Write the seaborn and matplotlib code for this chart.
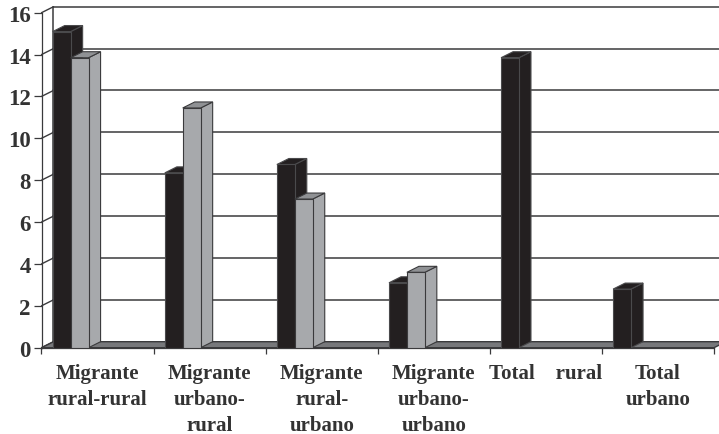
import matplotlib
matplotlib.use("Agg")
import matplotlib.pyplot as plt
from matplotlib.patches import Polygon
import numpy as np
import pandas as pd
import seaborn as sns

categories = ["Migrante\nrural-rural", "Migrante\nurbano-\nrural", "Migrante\nrural-\nurbano",
              "Migrante\nurbano-\nurbano", "Total    rural", "Total\nurbano"]
serie_oscura = [15.1, 8.35, 8.75, 3.1, 13.85, 2.8]
serie_gris = [13.85, 11.45, 7.1, 3.6, np.nan, np.nan]
y_ticks = list(range(0, 17, 2))

# the picture reserves room for five series per group, only two hold data
hue_levels = ["a", "b", "c", "d", "e"]

DARK = "#231f20"
GREY = "#a7a9ac"
TEXT = "#333333"
LINE = "#3a3a3c"

sns.set_style("white")
plt.rcParams["font.family"] = ["Liberation Serif", "DejaVu Serif"]

df = pd.concat([
    pd.DataFrame({"cat": categories, "valor": serie_oscura, "serie": "a"}),
    pd.DataFrame({"cat": categories, "valor": serie_gris, "serie": "b"}),
], ignore_index=True)

fig = plt.figure(figsize=(7.19, 4.35), dpi=100)
ax = fig.add_axes([41.5 / 719, 1 - 348.7 / 435, 672.5 / 719, 335 / 435])

palette = {"a": DARK, "b": GREY, "c": GREY, "d": GREY, "e": GREY}
sns.barplot(data=df, x="cat", y="valor", hue="serie", hue_order=hue_levels, order=categories,
            palette=palette, width=0.8, saturation=1, legend=False, ax=ax)
bars = list(ax.patches)

ax.set_xlim(-0.5, 5.5)
ax.set_ylim(0, 16)

# depth of the fake 3d box, in data units (12 px right, 6 px up)
dx = 12 / (672.5 / 6)
dy = 6 / (335 / 16)

# back wall grid and left wall
x_end = 5.5 + dx
for v in y_ticks:
    if v > 0:
        ax.plot([-0.5 + dx, x_end], [v + dy, v + dy], color=LINE, lw=1.1, zorder=1, clip_on=False)
    ax.plot([-0.5, -0.5 + dx], [v, v + dy], color=LINE, lw=1, zorder=1, clip_on=False)
ax.plot([-0.5 + dx, -0.5 + dx], [dy, 16 + dy], color=LINE, lw=1.1, zorder=1, clip_on=False)

# floor
ax.add_patch(Polygon([(-0.5, 0), (-0.5 + dx, dy), (x_end, dy), (5.5, 0)], closed=True,
                     facecolor="#77787b", edgecolor=LINE, lw=1, zorder=1.5, clip_on=False))

# front faces plus side and top of each bar
for bar in bars:
    h = bar.get_height()
    if not np.isfinite(h) or h == 0:
        continue
    x0 = bar.get_x()
    x1 = x0 + bar.get_width()
    face = bar.get_facecolor()
    is_dark = face[0] < 0.5
    z = 2 if is_dark else 3
    edge = "#4a4a4c" if is_dark else LINE
    bar.set_edgecolor(edge)
    bar.set_linewidth(0.8)
    bar.set_zorder(z + 0.5)
    ax.add_patch(Polygon([(x1, 0), (x1 + dx, dy), (x1 + dx, h + dy), (x1, h)], closed=True,
                         facecolor=face, edgecolor=edge, lw=0.8, zorder=z, clip_on=False))
    ax.add_patch(Polygon([(x0, h), (x0 + dx, h + dy), (x1 + dx, h + dy), (x1, h)], closed=True,
                         facecolor=DARK if is_dark else "#8f9194", edgecolor=edge, lw=0.8,
                         zorder=z, clip_on=False))

ax.set_xlabel("")
ax.set_ylabel("")
ax.set_yticks(y_ticks)
ax.set_xticks(range(len(categories)))
ax.set_xticklabels(categories, fontsize=15, fontweight="bold", color=TEXT, linespacing=1.4)
ax.set_xticks(np.arange(-0.5, 6), minor=True)
ax.tick_params(axis="x", which="major", length=0, pad=11)
ax.tick_params(axis="x", which="minor", length=4.5, width=0.9, color=LINE, bottom=True)
ax.tick_params(axis="y", length=5.8, width=0.9, color=LINE, left=True, pad=2, labelsize=16.5)
for t in ax.get_yticklabels():
    t.set_fontweight("bold")
    t.set_color(TEXT)

sns.despine(ax=ax)
ax.patch.set_alpha(0)
for s in ["left", "bottom"]:
    ax.spines[s].set_color(LINE)
    ax.spines[s].set_linewidth(0.9)
    ax.spines[s].set_zorder(1.6)

fig.savefig("out.png", dpi=100)
